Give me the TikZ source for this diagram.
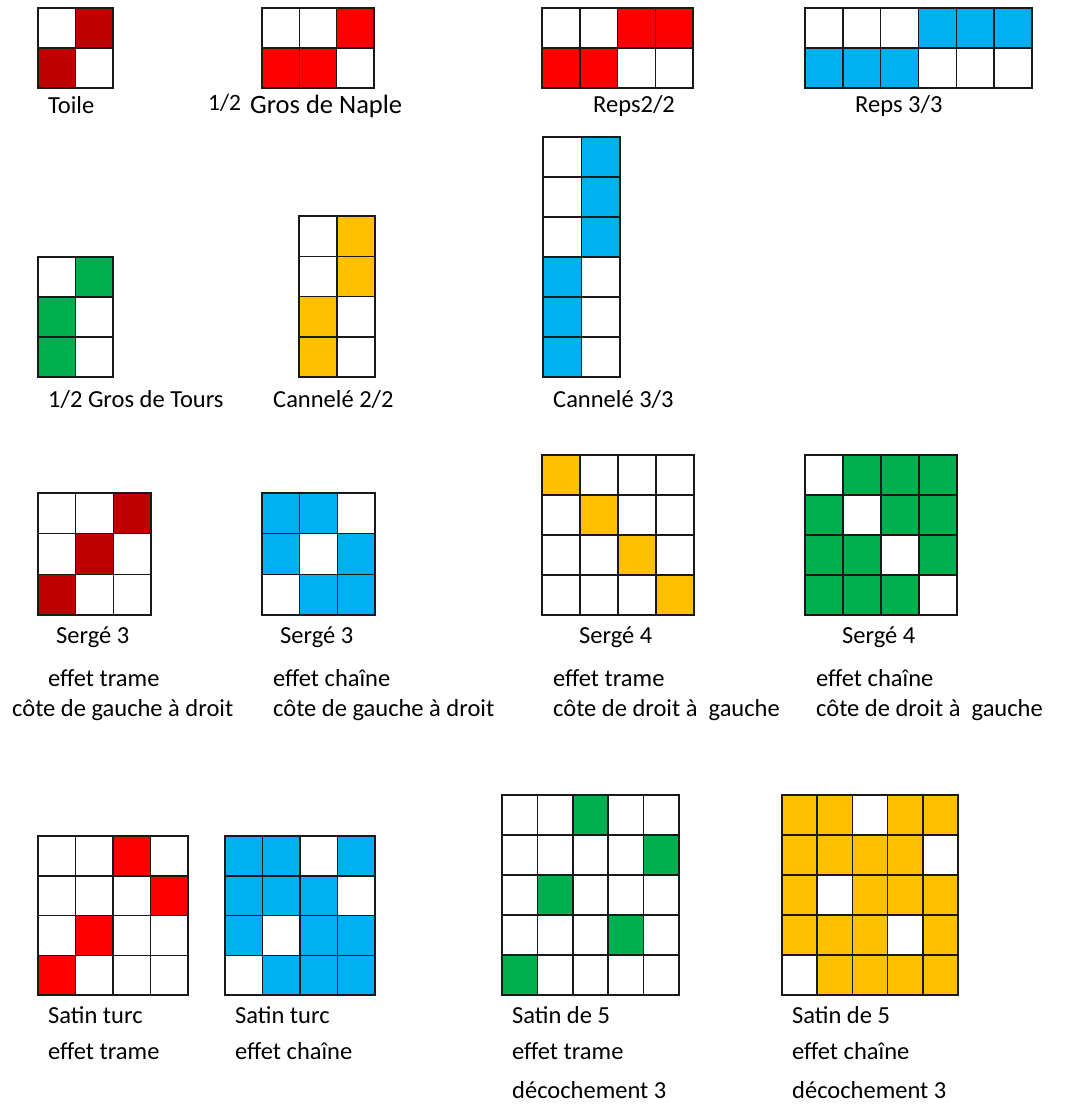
\documentclass[tikz,border=0pt]{standalone}
\usepackage{fontspec}
\setmainfont{Carlito}
\definecolor{darkred}{HTML}{C00000}
\definecolor{vred}{HTML}{FF0000}
\definecolor{vblue}{HTML}{00B0F0}
\definecolor{vgreen}{HTML}{00B050}
\definecolor{vyellow}{HTML}{FFC000}
\newcommand\armure[9]{%
 \pgfmathsetmacro\cw{(#4-#2)/#6}%
 \pgfmathsetmacro\ch{(#5-#3)/#7}%
 \foreach \r/\c in {#9}{\fill[#8] ({#2+\c*\cw},{#3+\r*\ch}) rectangle ++(\cw,\ch);}%
 \foreach \i in {0,...,#6}{\draw[gridline] ({#2+\i*\cw},#3) -- ({#2+\i*\cw},#5);}%
 \foreach \j in {0,...,#7}{\draw[gridline] (#2,{#3+\j*\ch}) -- (#4,{#3+\j*\ch});}%
 \coordinate (#1) at (#2,#3);%
}
\begin{document}
\begin{tikzpicture}[x=1pt,y=-1pt,
  gridline/.style={line width=1.5pt,draw=black!90,line cap=rect},
  lbl/.style={anchor=base west,inner sep=0pt,text=black,font=\fontsize{24.5}{29}\selectfont}]
\fill[white] (0,0) rectangle (1070,1104);
\useasboundingbox (0,0) rectangle (1070,1104);
% Row 1
\armure{toile}{38}{8}{113}{88}{2}{2}{darkred}{0/1,1/0}
\armure{naple}{262}{8}{374}{88}{3}{2}{vred}{0/2,1/0,1/1}
\armure{reps2}{542}{8}{693}{88}{4}{2}{vred}{0/2,0/3,1/0,1/1}
\armure{reps3}{805}{8}{1032}{88}{6}{2}{vblue}{0/3,0/4,0/5,1/0,1/1,1/2}
\node[lbl] (lToile) at (48,113) {Toile};
\node[lbl,font=\fontsize{23.5}{28}\selectfont] (lNapleA) at (208,110.5) {1/2};
\node[lbl,font=\fontsize{26.5}{31}\selectfont] (lNapleB) at (250,113) {Gros de Naple};
\node[lbl] (lReps2) at (593,112) {Reps2/2};
\node[lbl] (lReps3) at (855,112) {Reps 3/3};
% Row 2
\armure{tours}{38}{257}{113}{377}{2}{3}{vgreen}{0/1,1/0,2/0}
\armure{cann2}{299}{216}{375}{377}{2}{4}{vyellow}{0/1,1/1,2/0,3/0}
\armure{cann3}{543}{137}{620}{377}{2}{6}{vblue}{0/1,1/1,2/1,3/0,4/0,5/0}
\node[lbl] (lTours) at (48,407) {1/2 Gros de Tours};
\node[lbl] (lCann2) at (273,407) {Cannelé 2/2};
\node[lbl] (lCann3) at (553,407) {Cannelé 3/3};
% Row 3
\armure{serge3t}{38}{493}{151}{615}{3}{3}{darkred}{0/2,1/1,2/0}
\armure{serge3c}{262}{493}{375}{615}{3}{3}{vblue}{0/0,0/1,1/0,1/2,2/1,2/2}
\armure{serge4t}{542}{455}{694}{615}{4}{4}{vyellow}{0/0,1/1,2/2,3/3}
\armure{serge4c}{805}{455}{957}{615}{4}{4}{vgreen}{0/1,0/2,0/3,1/0,1/2,1/3,2/0,2/1,2/3,3/0,3/1,3/2}
\node[lbl] (lS3tA) at (56,643) {Sergé 3};
\node[lbl] (lS3tB) at (48,686) {effet trame};
\node[lbl] (lS3tC) at (12,716) {côte de gauche à droit};
\node[lbl] (lS3cA) at (280,643) {Sergé 3};
\node[lbl] (lS3cB) at (273,686) {effet chaîne};
\node[lbl] (lS3cC) at (273,716) {côte de gauche à droit};
\node[lbl] (lS4tA) at (579,643) {Sergé 4};
\node[lbl] (lS4tB) at (553,686) {effet trame};
\node[lbl] (lS4tC) at (553,716) {côte de droit à\ \ gauche};
\node[lbl] (lS4cA) at (842,643) {Sergé 4};
\node[lbl] (lS4cB) at (816,686) {effet chaîne};
\node[lbl] (lS4cC) at (816,716) {côte de droit à\ \ gauche};
% Row 4
\armure{turct}{38}{836}{188}{995}{4}{4}{vred}{0/2,1/3,2/1,3/0}
\armure{turcc}{225}{836}{375}{995}{4}{4}{vblue}{0/0,0/1,0/3,1/0,1/1,1/2,2/0,2/2,2/3,3/1,3/2,3/3}
\armure{sat5t}{502}{795}{679}{995}{5}{5}{vgreen}{0/2,1/4,2/1,3/3,4/0}
\armure{sat5c}{782}{795}{958}{995}{5}{5}{vyellow}{0/0,0/1,0/3,0/4,1/0,1/1,1/2,1/3,2/0,2/2,2/3,2/4,3/0,3/1,3/2,3/4,4/1,4/2,4/3,4/4}
\node[lbl] (lTtA) at (48,1023) {Satin turc};
\node[lbl] (lTtB) at (48,1059) {effet trame};
\node[lbl] (lTcA) at (235,1023) {Satin turc};
\node[lbl] (lTcB) at (235,1059) {effet chaîne};
\node[lbl] (l5tA) at (512,1023) {Satin de 5};
\node[lbl] (l5tB) at (512,1059) {effet trame};
\node[lbl] (l5tC) at (512,1098) {décochement 3};
\node[lbl] (l5cA) at (792,1023) {Satin de 5};
\node[lbl] (l5cB) at (792,1059) {effet chaîne};
\node[lbl] (l5cC) at (792,1098) {décochement 3};
\end{tikzpicture}
\end{document}
